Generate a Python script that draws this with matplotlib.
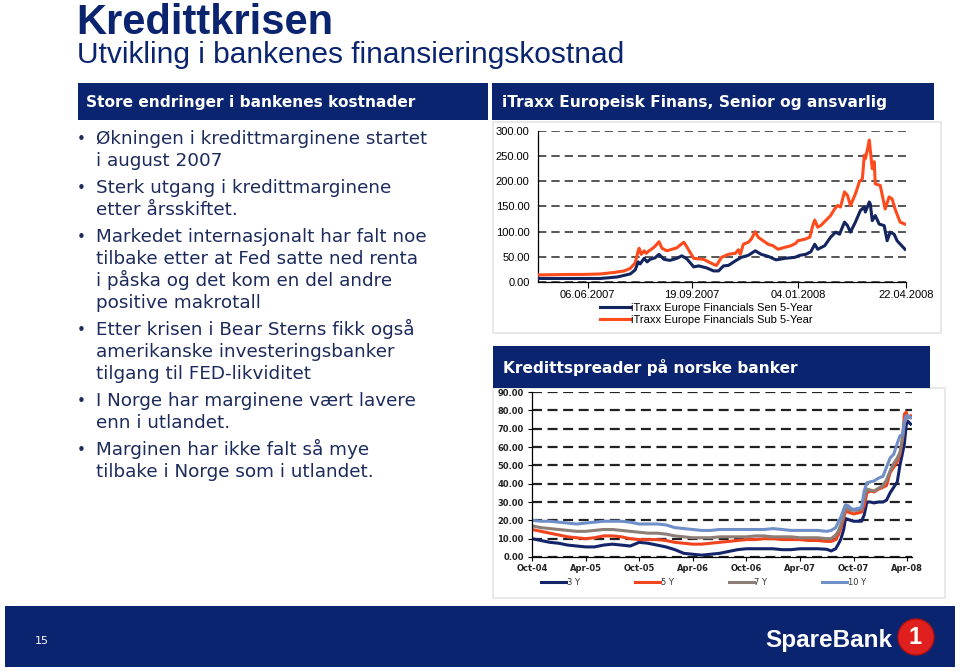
import matplotlib

matplotlib.use('Agg')

import matplotlib.pyplot as plt
from matplotlib.patches import Rectangle, Ellipse
import pandas as pd

W, H = 960, 671
NAVY = '#0b2470'
TXT = '#1c2a5c'

# iTraxx (dager etter 17.04.2007)
base1 = pd.Timestamp('2007-04-17')
sen_days = [0, 30, 63, 80, 93, 98, 101, 103, 107, 110, 113, 118, 122, 127, 133, 140, 145, 150, 157, 162,
            170, 177, 182, 187, 192, 199, 205, 212, 219, 225, 232, 240, 249, 259, 264, 270, 275, 279, 282, 289,
            295, 300, 304, 309, 312, 315, 320, 325, 329, 330, 334, 335, 337, 340, 344, 349, 352, 355, 359, 362, 370]
sen_vals = [7, 7, 7, 10, 16, 24, 40, 36, 47, 40, 45, 48, 55, 45, 43, 47, 52, 46, 30, 32,
            28, 22, 22, 32, 33, 42, 49, 53, 62, 55, 51, 44, 47, 49, 53, 55, 60, 75, 65, 72,
            89, 99, 95, 119, 112, 99, 119, 142, 149, 139, 159, 155, 122, 132, 115, 112, 82, 99, 95, 82, 65]
sub_days = [0, 15, 30, 45, 63, 77, 87, 93, 98, 101, 102, 104, 107, 109, 112, 115, 118, 122, 125, 130,
            135, 140, 145, 147, 150, 153, 157, 162, 167, 172, 177, 180, 185, 192, 199, 202, 204, 207, 212, 215,
            219, 222, 227, 232, 237, 242, 249, 255, 260, 262, 269, 274, 277, 279, 282, 285, 290, 295, 299, 302,
            305, 309, 312, 315, 320, 324, 327, 329, 330, 332, 334, 335, 337, 339, 340, 345, 350, 354, 357, 360,
            365, 370]
sub_vals = [14, 14.5, 15, 15, 16, 19, 22, 27, 38, 62, 67, 55, 62, 57, 62, 66, 71, 80, 67, 62,
            65, 68, 76, 79, 70, 60, 47, 46, 45, 40, 35, 33, 49, 55, 57, 64, 55, 75, 79, 85,
            100, 89, 82, 75, 72, 65, 69, 72, 77, 82, 85, 89, 112, 123, 109, 112, 122, 132, 145, 152,
            149, 179, 172, 152, 175, 199, 205, 252, 245, 262, 282, 262, 225, 239, 195, 192, 145, 169, 165, 145,
            119, 115]
itraxx_ticks = ['2007-06-06', '2007-09-19', '2008-01-04', '2008-04-22']
itraxx_labels = ['06.06.2007', '19.09.2007', '04.01.2008', '22.04.2008']

# Kredittspreader (måneder etter okt-04)
months = [0, 1, 2, 3, 4, 5, 6, 7, 8, 9, 10, 11, 12, 13, 14, 15, 16, 17, 18, 19, 20, 21, 22, 23, 24, 25,
          26, 27, 28, 29, 30, 31, 32, 33,
          33.5, 34, 34.3, 34.6, 34.9, 35.1, 35.4, 35.7, 36, 36.5, 36.9, 37.2, 37.5, 37.9, 38.3, 38.8,
          39.3, 39.7, 40.1, 40.5, 40.9, 41.2, 41.5, 41.7, 41.9, 42.1, 42.4]
y3 = [10, 9, 8, 7.5, 6.5, 6, 5.5, 5.5, 6.5, 7, 6.5, 6, 8, 7.5, 6.5, 5.5, 4, 2, 1.5, 1, 1.5, 2, 3, 4, 4.5,
      4.5, 4.5, 4.5, 4, 4, 4.5, 4.5, 4.5, 4.2,
      3.3, 4.5, 7, 10, 15, 21, 20.5, 20, 19.5, 19.5, 19.5, 23, 30, 30, 29.5, 30, 30, 31, 35, 38, 41, 50,
      57, 62, 72, 74, 72.5]
y5 = [15, 14, 13, 12, 11, 10.5, 10, 10.5, 11.5, 11.5, 11, 10, 9.5, 9.5, 9.5, 9, 8, 7.5, 7, 7, 7.5, 8, 8.5,
      9, 9.5, 9.5, 10, 10, 9.5, 9.5, 9.5, 9, 9, 8.5,
      8.5, 9.5, 12, 16, 21, 25, 24.5, 24, 23.5, 24, 24.5, 28, 35, 36, 35.5, 37, 38, 39, 46, 49, 52, 56,
      65, 78, 79, 76, 77]
y7 = [17, 16, 15.5, 15, 14.5, 14, 14, 14.5, 15, 15, 14.5, 14, 13.5, 13, 13, 12.5, 11.5, 11, 10.5, 10.5,
      10.5, 11, 11, 11, 11, 11.5, 11.5, 11, 11, 11, 10.5, 10.5, 10.5, 10,
      10, 12, 14, 18, 23, 27, 26, 25.5, 25.5, 25.5, 26, 32, 37, 36.5, 36, 37.5, 39, 42, 47, 51, 54, 57,
      65, 73, 75.5, 76, 76]
y10 = [20, 19.5, 19.5, 19, 18.5, 18, 18.5, 19, 19.5, 19.5, 19.5, 19, 18, 18, 18, 17.5, 16, 15.5, 15, 14.5,
       14.5, 15, 15, 15, 15, 15, 15, 15.5, 15, 14.5, 14.5, 14.5, 14.5, 14,
       14.5, 16, 19, 22, 26, 28.5, 28, 26.5, 26, 26.5, 27, 36, 40.5, 41, 41.5, 43, 44, 49, 54, 56, 62, 66,
       67, 74, 77, 77, 76]
month_labels = ['Oct-04', 'Apr-05', 'Oct-05', 'Apr-06', 'Oct-06', 'Apr-07', 'Oct-07', 'Apr-08']

bullets = [
    ['Økningen i kredittmarginene startet', 'i august 2007'],
    ['Sterk utgang i kredittmarginene', 'etter årsskiftet.'],
    ['Markedet internasjonalt har falt noe', 'tilbake etter at Fed satte ned renta',
     'i påska og det kom en del andre', 'positive makrotall'],
    ['Etter krisen i Bear Sterns fikk også', 'amerikanske investeringsbanker', 'tilgang til FED-likviditet'],
    ['I Norge har marginene vært lavere', 'enn i utlandet.'],
    ['Marginen har ikke falt så mye', 'tilbake i Norge som i utlandet.'],
]


def fr(x0, y0, x1, y1):
    # piksel -> figurkoordinater
    return [x0 / W, 1 - y1 / H, (x1 - x0) / W, (y1 - y0) / H]


def box(fig, x0, y0, x1, y1, color, z=1):
    r = fr(x0, y0, x1, y1)
    fig.add_artist(Rectangle((r[0], r[1]), r[2], r[3], transform=fig.transFigure,
                             facecolor=color, edgecolor='none', zorder=z))


def text(fig, x, y, s, **kw):
    fig.text(x / W, 1 - y / H, s, **kw)


plt.rcParams['font.family'] = ['DejaVu Sans']
fig = plt.figure(figsize=(9.6, 6.71), dpi=100)

# titler
text(fig, 76, 34, 'Kredittkrisen', fontsize=30, fontweight='bold', color=NAVY,
     family='Liberation Sans', va='baseline')
text(fig, 77, 63, 'Utvikling i bankenes finansieringskostnad', fontsize=21.5, color=NAVY,
     family='Liberation Sans', va='baseline')

# overskriftsbokser
box(fig, 78, 83, 488, 120, NAVY)
box(fig, 492, 83, 934, 120, NAVY)
box(fig, 493, 346, 930, 388, NAVY)
text(fig, 86, 102, 'Store endringer i bankenes kostnader', color='white', fontsize=11.1,
     fontweight='bold', va='center')
text(fig, 502, 102, 'iTraxx Europeisk Finans, Senior og ansvarlig', color='white', fontsize=11.1,
     fontweight='bold', va='center')
text(fig, 503, 367, 'Kredittspreader på norske banker', color='white', fontsize=11.1,
     fontweight='bold', va='center')

# punktliste
y = 144
for lines in bullets:
    text(fig, 77, y, '•', fontsize=11, color=TXT, va='baseline')
    for ln in lines:
        text(fig, 96, y, ln, fontsize=13.2, color=TXT, va='baseline')
        y += 22
    y += 5

# diagrampaneler
for r in [(493, 122, 941, 333), (493, 388, 945, 598)]:
    rr = fr(*r)
    fig.add_artist(Rectangle((rr[0], rr[1]), rr[2], rr[3], transform=fig.transFigure,
                             facecolor='white', edgecolor='#e4e4e4', lw=1.2, zorder=-5))

# iTraxx-diagram
ax1 = fig.add_axes(fr(538, 131, 906, 282))
ax1.patch.set_alpha(0)
ax1.plot(base1 + pd.to_timedelta(sub_days, unit='D'), sub_vals, color='#ff4a1c', lw=2.2,
         label='iTraxx Europe Financials Sub 5-Year', zorder=3)
ax1.plot(base1 + pd.to_timedelta(sen_days, unit='D'), sen_vals, color='#13245e', lw=2.2,
         label='iTraxx Europe Financials Sen 5-Year', zorder=4)
ax1.set_xlim(base1, pd.Timestamp('2008-04-22'))
ax1.set_ylim(0, 300)
ax1.set_yticks(range(0, 301, 50))
ax1.set_yticklabels([f'{v:.2f}' for v in range(0, 301, 50)], fontsize=8, family='Liberation Sans')
ax1.set_xticks(pd.to_datetime(itraxx_ticks))
ax1.set_xticklabels(itraxx_labels, fontsize=8, family='Liberation Sans')
ax1.tick_params(axis='y', length=0, pad=6)
ax1.tick_params(axis='x', length=4, width=0.8, pad=2)
ax1.yaxis.grid(True, ls=(0, (5, 3)), color='#3a3a3a', lw=1.2)
ax1.set_axisbelow(True)
for s in ['top', 'right']:
    ax1.spines[s].set_visible(False)
for s in ['left', 'bottom']:
    ax1.spines[s].set_linewidth(0.9)
h, l = ax1.get_legend_handles_labels()
fig.legend(h[::-1], l[::-1], loc='upper left', bbox_to_anchor=(600 / W, 1 - 303 / H), frameon=False,
           prop={'family': 'Liberation Sans', 'size': 8}, handlelength=2.7,
           handletextpad=0.05, labelspacing=0.2, borderpad=0, borderaxespad=0)

# Kredittspreader-diagram
ax2 = fig.add_axes(fr(532, 392, 912, 557))
ax2.patch.set_alpha(0)
ax2.plot(months, y3, color='#13246a', lw=2.2, label='3 Y')
ax2.plot(months, y5, color='#f0441e', lw=2.2, label='5 Y')
ax2.plot(months, y7, color='#8e7e78', lw=2.2, label='7 Y')
ax2.plot(months, y10, color='#6f8fc8', lw=2.2, label='10 Y')
ax2.set_xlim(0, 42.55)
ax2.set_ylim(0, 90)
ax2.set_yticks(range(0, 91, 10))
ax2.set_yticklabels([f'{v:.2f}' for v in range(0, 91, 10)], fontsize=6, fontweight='bold', color='#222222')
ax2.set_xticks(range(0, 43, 6))
ax2.set_xticklabels(month_labels, fontsize=6, fontweight='bold', color='#222222')
ax2.tick_params(axis='y', length=3, width=0.8, pad=3)
ax2.tick_params(axis='x', length=3, width=0.8, pad=2)
ax2.yaxis.grid(True, ls=(0, (4.5, 2.5)), color='#222222', lw=1.6)
ax2.set_axisbelow(True)
for s in ['top', 'right']:
    ax2.spines[s].set_visible(False)
for s in ['left', 'bottom']:
    ax2.spines[s].set_linewidth(0.9)
fig.legend(*ax2.get_legend_handles_labels(), loc='upper left', bbox_to_anchor=(541 / W, 1 - 578 / H),
           ncol=4, frameon=False, prop={'size': 6}, labelcolor='#333333', handlelength=3.0,
           handletextpad=0.1, columnspacing=6.6, borderpad=0, borderaxespad=0)

# bunntekst
box(fig, 5, 606, 955, 667, NAVY)
text(fig, 42, 641, '15', color='white', fontsize=8, ha='center', va='center')
text(fig, 829, 640, 'SpareBank', color='white', fontsize=17.5, fontweight='bold',
     family='Liberation Sans', ha='center', va='center')
fig.add_artist(Ellipse((916 / W, 1 - 637 / H), 36 / W, 36 / H, transform=fig.transFigure,
                       facecolor='#e0201e', edgecolor='#b01010', lw=1))
text(fig, 915, 638, '1', color='white', fontsize=17, fontweight='bold', family='Liberation Sans',
     ha='center', va='center')

fig.savefig('out.png', dpi=100)
